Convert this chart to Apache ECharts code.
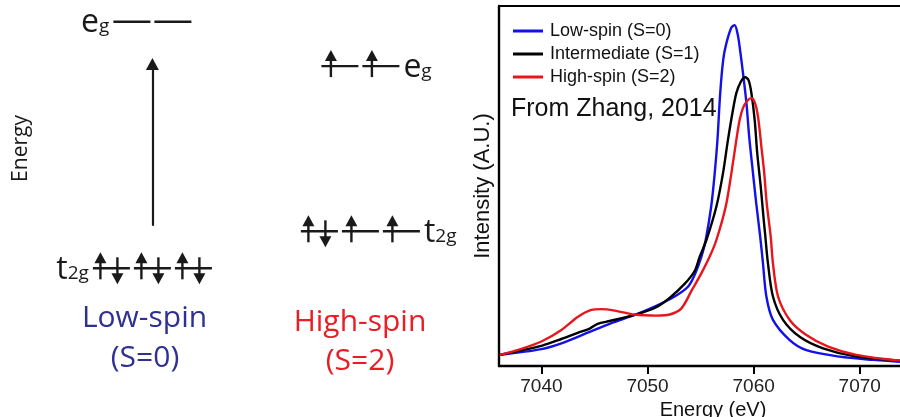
<!DOCTYPE html>
<html>
<head>
<meta charset="utf-8">
<script src="https://cdn.jsdelivr.net/npm/echarts@6/dist/echarts.min.js"></script>
<style>
  html, body { margin: 0; padding: 0; background: #fff; }
  #chart { width: 900px; height: 417px; }
</style>
</head>
<body>
<div id="chart"></div>
<script>
// ---------- Fe K-edge spectra for the three spin states ----------
const xTicks = [7040, 7050, 7060, 7070];
const seriesNames = ['Low-spin (S=0)', 'Intermediate (S=1)', 'High-spin (S=2)'];

// [energy (eV), intensity (a.u.)]
const lowSpinCurve = [
  [7036.07,0.031],[7040.00,0.047],[7041.88,0.063],[7044.08,0.089],[7046.59,0.119],
  [7048.79,0.142],[7050.67,0.165],[7052.56,0.193],[7053.81,0.220],[7054.44,0.253],
  [7055.08,0.304],[7055.48,0.350],[7056.00,0.443],[7056.33,0.535],[7056.59,0.628],
  [7056.85,0.758],[7057.13,0.850],[7057.41,0.894],[7057.88,0.939],[7058.21,0.947],
  [7058.49,0.922],[7058.68,0.887],[7059.00,0.813],[7059.32,0.731],[7059.58,0.637],
  [7059.91,0.544],[7060.24,0.453],[7060.62,0.359],[7060.88,0.285],[7061.20,0.193],
  [7061.82,0.128],[7063.40,0.072],[7064.97,0.044],[7068.11,0.026],[7071.25,0.017],
  [7073.77,0.012],[7076.30,0.010]
];
const intermediateCurve = [
  [7036.07,0.031],[7040.00,0.056],[7041.88,0.075],[7043.42,0.092],[7044.55,0.104],
  [7045.30,0.117],[7046.43,0.125],[7048.79,0.142],[7050.67,0.161],[7052.08,0.189],
  [7053.49,0.228],[7054.44,0.264],[7054.91,0.303],[7055.55,0.350],[7056.49,0.443],
  [7057.11,0.535],[7057.58,0.628],[7058.05,0.711],[7058.37,0.758],[7058.78,0.789],
  [7059.20,0.802],[7059.52,0.794],[7059.79,0.758],[7060.10,0.683],[7060.34,0.591],
  [7060.67,0.498],[7060.95,0.406],[7061.09,0.364],[7061.35,0.285],[7061.82,0.193],
  [7062.77,0.128],[7064.34,0.081],[7066.54,0.049],[7069.69,0.026],[7073.77,0.015],
  [7076.30,0.012]
];
const highSpinCurve = [
  [7036.07,0.031],[7038.05,0.047],[7040.00,0.068],[7041.88,0.100],[7043.45,0.137],
  [7044.71,0.156],[7045.65,0.158],[7046.90,0.154],[7048.79,0.143],[7050.84,0.140],
  [7052.09,0.143],[7053.19,0.160],[7054.20,0.212],[7055.08,0.258],[7055.86,0.304],
  [7056.49,0.350],[7057.37,0.443],[7057.90,0.535],[7058.37,0.628],[7058.68,0.683],
  [7059.00,0.717],[7059.39,0.736],[7059.79,0.744],[7060.10,0.733],[7060.41,0.693],
  [7060.73,0.609],[7061.00,0.536],[7061.23,0.453],[7061.61,0.359],[7061.82,0.285],
  [7062.30,0.193],[7063.40,0.128],[7064.97,0.086],[7067.02,0.054],[7069.69,0.031],
  [7073.77,0.015],[7076.30,0.012]
];

// ---------- d6 octahedral splitting diagram ----------
const spinStates = ['Low-spin', 'High-spin'];
const spinNumbers = ['(S=0)', '(S=2)'];
const orbitalSets = [['e', 'g'], ['t', '2g']];
// level energies in arbitrary units: [eg, t2g]
const lowSpinLevels = [10, 0];
const highSpinLevels = [8.2, 1.5];
// electrons per orbital: [eg orbitals, t2g orbitals]
const lowSpinElectrons = [[0, 0], [2, 2, 2]];
const highSpinElectrons = [[1, 1], [2, 1, 1]];

const INK = '#1a1a1a';
const DIAGRAM_FONT = '"Open Sans"';
const PLOT_FONT = '"Liberation Sans", Arial, sans-serif';
const curveColors = ['#1212e8', '#000000', '#e8161c'];

const measureCtx = document.createElement('canvas').getContext('2d');
function textWidth(str, size) {
  measureCtx.font = size + 'px ' + DIAGRAM_FONT;
  return measureCtx.measureText(str).width;
}

function spinArrow(x, y, up) {
  const tip = 16, tail = 11, headH = 11, headW = 12, w = 2.4;
  if (up) {
    return [
      { type: 'line', shape: { x1: x, y1: y + tail, x2: x, y2: y - tip + headH - 1 },
        style: { stroke: INK, lineWidth: w } },
      { type: 'polygon', shape: { points: [[x, y - tip], [x - headW / 2, y - tip + headH], [x + headW / 2, y - tip + headH]] },
        style: { fill: INK } }
    ];
  }
  return [
    { type: 'line', shape: { x1: x, y1: y - tail, x2: x, y2: y + tip - headH + 1 },
      style: { stroke: INK, lineWidth: w } },
    { type: 'polygon', shape: { points: [[x, y + tip], [x - headW / 2, y + tip - headH], [x + headW / 2, y + tip - headH]] },
      style: { fill: INK } }
  ];
}

function renderLevel(params, api) {
  const col = api.value(0);
  const set = api.value(2);
  const pt = api.coord([col, api.value(1)]);
  const occ = (col === 0 ? lowSpinElectrons : highSpinElectrons)[set];
  const n = occ.length;
  const pitch = 41, half = 18.5;
  const children = [];
  for (let i = 0; i < n; i++) {
    const ox = pt[0] + (i - (n - 1) / 2) * pitch;
    children.push({ type: 'line', shape: { x1: ox - half, y1: pt[1], x2: ox + half, y2: pt[1] },
      style: { stroke: INK, lineWidth: 2.4 } });
    if (occ[i] === 1) children.push(...spinArrow(ox - 9, pt[1], true));
    if (occ[i] === 2) {
      children.push(...spinArrow(ox - 11, pt[1], true));
      children.push(...spinArrow(ox + 6, pt[1], false));
    }
  }
  // orbital-set label (e_g / t_2g)
  const mainSize = 32, subSize = 19, gap = 4;
  const [mainTxt, subTxt] = orbitalSets[set];
  const base = pt[1] + 11;
  const mainY = base - 0.3 * mainSize, subY = base - 0.3 * subSize;
  const mw = textWidth(mainTxt, mainSize), sw = textWidth(subTxt, subSize);
  let mainX, subX;
  if (col === 0) {
    const edge = pt[0] - ((n - 1) / 2) * pitch - half - gap;
    subX = edge - sw; mainX = subX - mw;
  } else {
    const edge = pt[0] + ((n - 1) / 2) * pitch + half + gap;
    mainX = edge; subX = edge + mw;
  }
  children.push({ type: 'text', style: { text: mainTxt, x: mainX, y: mainY, fill: INK,
    font: mainSize + 'px ' + DIAGRAM_FONT, textAlign: 'left', textVerticalAlign: 'middle' } });
  children.push({ type: 'text', style: { text: subTxt, x: subX, y: subY, fill: INK,
    font: subSize + 'px ' + DIAGRAM_FONT, textAlign: 'left', textVerticalAlign: 'middle' } });
  return { type: 'group', children };
}

const levelData = [];
[lowSpinLevels, highSpinLevels].forEach((levels, col) => {
  levels.forEach((e, set) => levelData.push([col, e, set]));
});

const chart = echarts.init(document.getElementById('chart'), null, { renderer: 'canvas' });

chart.setOption({
  animation: false,
  backgroundColor: '#ffffff',
  title: {
    text: 'From Zhang, 2014',
    left: 511, top: 97, padding: 0,
    textStyle: { fontSize: 25, fontWeight: 'normal', color: '#111', fontFamily: PLOT_FONT }
  },
  legend: {
    orient: 'vertical', left: 513, top: 22, padding: 0,
    icon: 'rect', itemWidth: 30, itemHeight: 3, itemGap: 5,
    textStyle: { fontSize: 18, color: '#111', fontFamily: PLOT_FONT, padding: [0, 0, 0, 2] },
    data: seriesNames
  },
  grid: [
    { left: 499, top: 6, width: 428, height: 360, show: true, borderColor: '#000', borderWidth: 2,
      outerBoundsMode: 'none', containLabel: false },
    { left: 38, top: 64, width: 426.4, height: 161, show: false, outerBoundsMode: 'none', containLabel: false }
  ],
  xAxis: [
    {
      type: 'value', gridIndex: 0, min: 7036, max: 7076.34,
      name: 'Energy (eV)', nameLocation: 'middle', nameGap: 27,
      nameTextStyle: { fontSize: 20, color: '#111', fontFamily: PLOT_FONT },
      axisLine: { lineStyle: { color: '#000', width: 2.4 } },
      axisTick: { show: true, length: 8, lineStyle: { color: '#000', width: 2 }, customValues: xTicks },
      axisLabel: { customValues: xTicks, margin: 11, fontSize: 19, color: '#222', fontFamily: PLOT_FONT,
        formatter: (v) => String(v) },
      splitLine: { show: false }
    },
    {
      type: 'value', gridIndex: 1, min: -0.55, max: 1.5, show: false
    }
  ],
  yAxis: [
    {
      type: 'value', gridIndex: 0, min: 0, max: 1,
      name: 'Intensity (A.U.)', nameLocation: 'middle', nameGap: 5, nameRotate: 90,
      nameTextStyle: { fontSize: 22, color: '#111', fontFamily: PLOT_FONT },
      axisLine: { show: true, lineStyle: { color: '#000', width: 2.4 } },
      axisTick: { show: false }, axisLabel: { show: false }, splitLine: { show: false }
    },
    {
      type: 'value', gridIndex: 1, min: 1.756, max: 8.285,
      name: 'Energy', nameLocation: 'middle', nameGap: 6, nameRotate: 90,
      nameTextStyle: { fontSize: 21, color: INK, fontFamily: DIAGRAM_FONT, padding: [0, 8, 0, 0] },
      axisLine: { show: true, symbol: ['none', 'triangle'], symbolSize: [13, 12],
        lineStyle: { color: INK, width: 2.2 } },
      axisTick: { show: false }, axisLabel: { show: false }, splitLine: { show: false }
    }
  ],
  graphic: [
    { type: 'text', x: 144.5, y: 318, style: { text: spinStates[0], fill: '#2e3192',
      font: '30px ' + DIAGRAM_FONT, textAlign: 'center', textVerticalAlign: 'middle' } },
    { type: 'text', x: 145, y: 358, style: { text: spinNumbers[0], fill: '#2e3192',
      font: '30px ' + DIAGRAM_FONT, textAlign: 'center', textVerticalAlign: 'middle' } },
    { type: 'text', x: 360, y: 322, style: { text: spinStates[1], fill: '#ea1c24',
      font: '30px ' + DIAGRAM_FONT, textAlign: 'center', textVerticalAlign: 'middle' } },
    { type: 'text', x: 360, y: 361, style: { text: spinNumbers[1], fill: '#ea1c24',
      font: '30px ' + DIAGRAM_FONT, textAlign: 'center', textVerticalAlign: 'middle' } }
  ],
  series: [
    { name: seriesNames[0], type: 'line', xAxisIndex: 0, yAxisIndex: 0, data: lowSpinCurve,
      showSymbol: false, symbol: 'none', smooth: 0.3, color: curveColors[0], lineStyle: { width: 2.4 }, z: 3 },
    { name: seriesNames[1], type: 'line', xAxisIndex: 0, yAxisIndex: 0, data: intermediateCurve,
      showSymbol: false, symbol: 'none', smooth: 0.3, color: curveColors[1], lineStyle: { width: 2.4 }, z: 4 },
    { name: seriesNames[2], type: 'line', xAxisIndex: 0, yAxisIndex: 0, data: highSpinCurve,
      showSymbol: false, symbol: 'none', smooth: 0.3, color: curveColors[2], lineStyle: { width: 2.4 }, z: 5 },
    { name: 'levels', type: 'custom', xAxisIndex: 1, yAxisIndex: 1, data: levelData,
      renderItem: renderLevel, clip: false, silent: true }
  ]
});
</script>
</body>
</html>
